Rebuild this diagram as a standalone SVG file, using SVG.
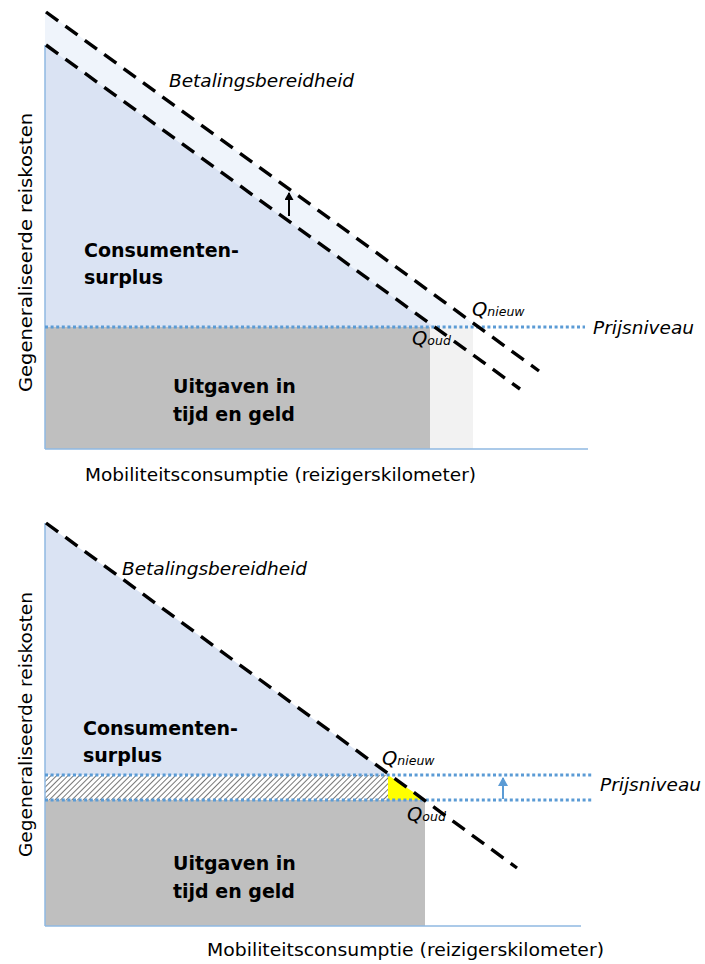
<svg xmlns="http://www.w3.org/2000/svg" width="705" height="964" viewBox="0 0 705 964">
<style>
text{font-family:"DejaVu Sans",Verdana,sans-serif;fill:#000}
.lbl{font-size:18.5px}
.it{font-size:18.5px;font-style:italic}
.b{font-size:19px;font-weight:bold}
.q{font-size:19.5px;font-style:italic}
.sub{font-size:12.5px;font-style:italic}
.dash{stroke:#000;stroke-width:3.4;stroke-dasharray:15 9;fill:none}
.dot{stroke:#5B9BD5;stroke-width:3;stroke-dasharray:3 2.6;fill:none}
.axis{stroke:#8FB8E2;stroke-width:1.5;fill:none}
</style>
<defs>
<pattern id="hatch" width="4" height="4" patternUnits="userSpaceOnUse" patternTransform="rotate(45)">
<rect width="4" height="4" fill="#fff"/>
<line x1="0" y1="0" x2="0" y2="4" stroke="#555" stroke-width="1.6"/>
</pattern>
<marker id="arrK" markerWidth="9" markerHeight="9" refX="7" refY="4.5" orient="auto" markerUnits="userSpaceOnUse">
<path d="M0,0 L8,4.5 L0,9 Z" fill="#000"/>
</marker>
<marker id="arrB" markerWidth="10" markerHeight="10" refX="8" refY="5" orient="auto" markerUnits="userSpaceOnUse">
<path d="M0,0 L9,5 L0,10 Z" fill="#5B9BD5"/>
</marker>
</defs>

<!-- TOP CHART -->
<g id="top-areas">
<polygon points="45,11 478,327 45,327" fill="#EFF4FB"/>
<polygon points="45,45 434,327 45,327" fill="#DAE3F3"/>
<rect x="45" y="327" width="385" height="122" fill="#BFBFBF"/>
<rect x="430" y="327" width="43" height="122" fill="#F2F2F2"/>
</g>
<g id="top-axes">
<line class="axis" x1="45" y1="45" x2="45" y2="449"/>
<line class="axis" x1="45" y1="449" x2="588" y2="449"/>
</g>
<g id="top-connectors">
<line class="dot" x1="45" y1="327" x2="585" y2="327"/>
<line class="dash" x1="46" y1="12" x2="539" y2="371"/>
<line class="dash" x1="46" y1="45" x2="520" y2="389"/>
<line x1="289" y1="216" x2="289" y2="193" stroke="#000" stroke-width="2" marker-end="url(#arrK)"/>
</g>
<g id="top-labels">
<text class="it" x="169" y="87">Betalingsbereidheid</text>
<text class="b" x="84" y="257">Consumenten-</text>
<text class="b" x="84" y="284">surplus</text>
<text class="b" x="173" y="393">Uitgaven in</text>
<text class="b" x="173" y="421">tijd en geld</text>
<text class="q" x="472" y="316">Q<tspan class="sub">nieuw</tspan></text>
<text class="q" x="412" y="345">Q<tspan class="sub">oud</tspan></text>
<text class="it" x="593" y="334">Prijsniveau</text>
<text class="lbl" x="85" y="481" textLength="391" lengthAdjust="spacingAndGlyphs">Mobiliteitsconsumptie (reizigerskilometer)</text>
<text class="lbl" transform="translate(32,252.5) rotate(-90)" text-anchor="middle" textLength="279" lengthAdjust="spacingAndGlyphs">Gegeneraliseerde reiskosten</text>
</g>

<!-- BOTTOM CHART -->
<g id="bottom-areas">
<polygon points="45,523 390,775 45,775" fill="#DAE3F3"/>
<rect x="45" y="775" width="343" height="25" fill="url(#hatch)"/>
<polygon points="388,775 388,800 425,800" fill="#FFFF00"/>
<rect x="45" y="800" width="380" height="126" fill="#BFBFBF"/>
</g>
<g id="bottom-axes">
<line class="axis" x1="45" y1="523" x2="45" y2="926"/>
<line class="axis" x1="45" y1="926" x2="581" y2="926"/>
</g>
<g id="bottom-connectors">
<line class="dot" x1="45" y1="775" x2="593" y2="775"/>
<line class="dot" x1="45" y1="800" x2="593" y2="800"/>
<line class="dash" x1="46" y1="523" x2="517" y2="868"/>
<line x1="503" y1="799" x2="503" y2="778" stroke="#5B9BD5" stroke-width="2" marker-end="url(#arrB)"/>
</g>
<g id="bottom-labels">
<text class="it" x="122" y="575">Betalingsbereidheid</text>
<text class="b" x="83" y="735">Consumenten-</text>
<text class="b" x="83" y="762">surplus</text>
<text class="b" x="173" y="870">Uitgaven in</text>
<text class="b" x="173" y="898">tijd en geld</text>
<text class="q" x="382" y="765">Q<tspan class="sub">nieuw</tspan></text>
<text class="q" x="407" y="821">Q<tspan class="sub">oud</tspan></text>
<text class="it" x="600" y="791">Prijsniveau</text>
<text class="lbl" x="207" y="956" textLength="397" lengthAdjust="spacingAndGlyphs">Mobiliteitsconsumptie (reizigerskilometer)</text>
<text class="lbl" transform="translate(32,724.5) rotate(-90)" text-anchor="middle" textLength="265" lengthAdjust="spacingAndGlyphs">Gegeneraliseerde reiskosten</text>
</g>
</svg>
